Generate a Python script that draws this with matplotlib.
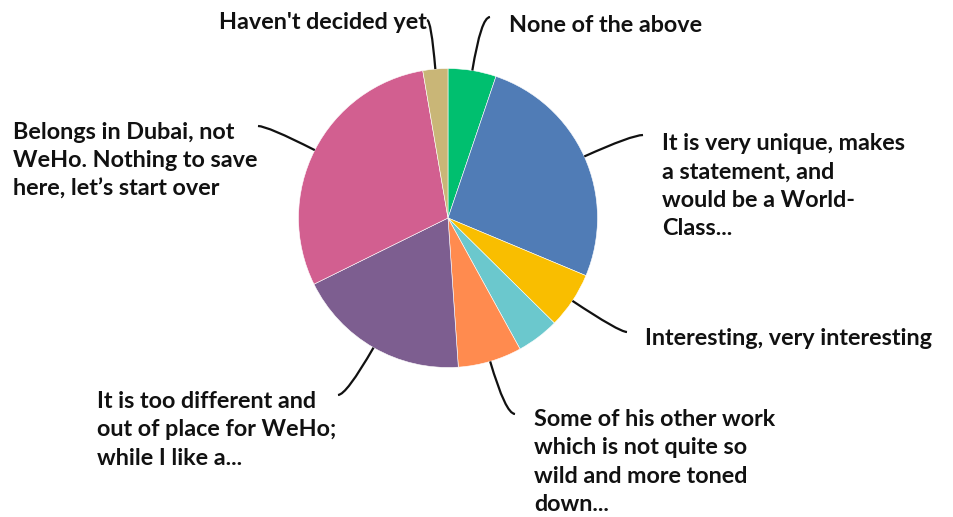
import numpy as np
import matplotlib
matplotlib.use("Agg")
import matplotlib.pyplot as plt
from matplotlib.path import Path
from matplotlib.patches import PathPatch

# share of answers, clockwise from 12 o'clock (percent)
answers = [
    "None of the above",
    "It is very unique, makes\na statement, and\nwould be a World-\nClass...",
    "Interesting, very interesting",
    "",
    "Some of his other work\nwhich is not quite so\nwild and more toned\ndown...",
    "It is too different and\nout of place for WeHo;\nwhile I like a...",
    "Belongs in Dubai, not\nWeHo. Nothing to save\nhere, let\u2019s start over",
    "Haven't decided yet",
]
shares = [5.2, 26.1, 6.1, 4.6, 6.9, 18.8, 29.6, 2.7]
colors = ["#00BF6F", "#507CB6", "#F9BE00", "#6BC8CD", "#FF8B4F",
          "#7D5E90", "#D25F90", "#C9B677"]

# label placement in pixels: (text x, text y, align, leader end x, leader end y)
label_pos = [
    (509, 25, "left", 490, 17),
    (662, 186, "left", 643, 135),
    (645, 339, "left", 627, 332),
    None,
    (534, 462, "left", 515, 414),
    (97, 430, "left", 338, 395),
    (13, 161, "left", 258, 126),
    (427, 22, "right", 427, 20),
]

W, H = 954, 517
CX, CY, R = 448, 218, 149.5

plt.rcParams["font.family"] = ["Lato", "DejaVu Sans"]

fig = plt.figure(figsize=(W / 100, H / 100), dpi=100)
ax = fig.add_axes([0, 0, 1, 1])

# y axis points down, so counterclock=True with start at 270 draws clockwise from top
wedges, _ = ax.pie(shares, colors=colors, startangle=270, counterclock=True,
                   center=(CX, CY), radius=R, frame=True,
                   wedgeprops=dict(edgecolor="white", linewidth=0.4))
ax.set_xlim(0, W)
ax.set_ylim(H, 0)
ax.set_aspect("equal")
ax.axis("off")

for w, txt, pos in zip(wedges, answers, label_pos):
    if pos is None:
        continue
    tx, ty, ha, ex, ey = pos
    mid = np.deg2rad((w.theta1 + w.theta2) / 2)
    dx, dy = np.cos(mid), np.sin(mid)
    sx, sy = CX + R * dx, CY + R * dy
    t = (ey - sy) / dy
    ctrl = (sx + t * dx, ey)
    path = Path([(sx, sy), ctrl, (ex, ey)], [Path.MOVETO, Path.CURVE3, Path.CURVE3])
    ax.add_patch(PathPatch(path, fill=False, lw=1.6, color="#111111"))
    ax.text(tx, ty, txt, ha=ha, va="center", fontsize=16.8, fontweight="bold",
            color="#111111", linespacing=1.42)

fig.savefig("out.png", dpi=100)
